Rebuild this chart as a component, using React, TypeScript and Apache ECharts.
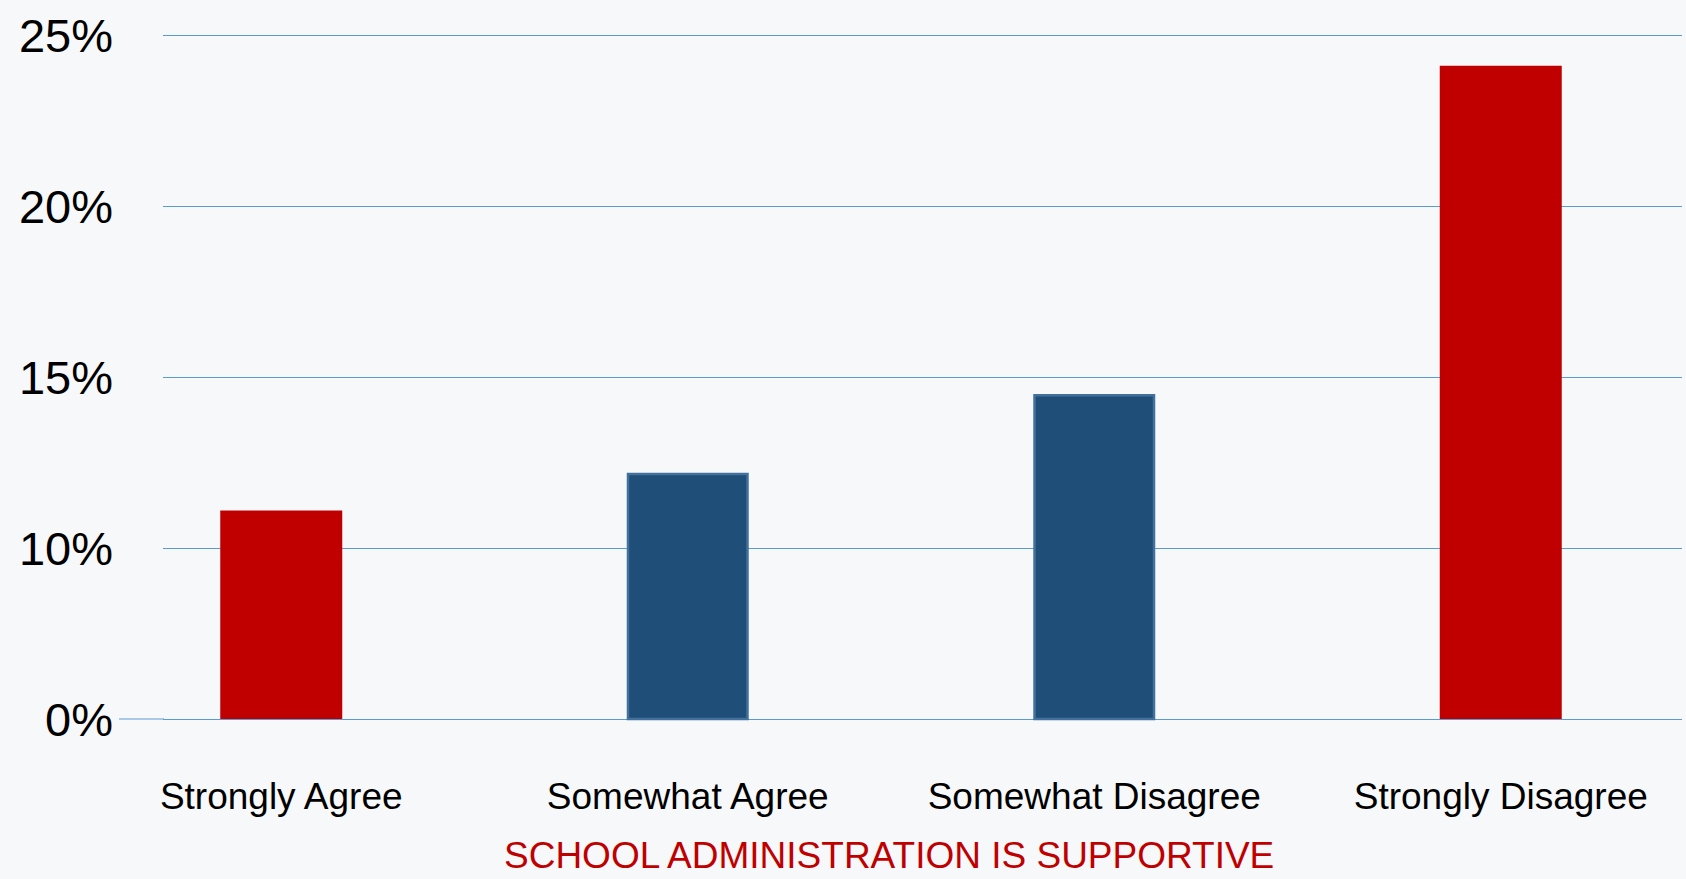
import React, { useEffect, useRef } from "react";
import * as echarts from "echarts";

// Survey responses: share of respondents per answer (percent)
const categories = ["Strongly Agree", "Somewhat Agree", "Somewhat Disagree", "Strongly Disagree"];
const values = [11.1, 12.2, 14.5, 24.1];
const barColors = ["#C00000", "#1F4E79", "#1F4E79", "#C00000"];
const barBorders = ["#C00000", "#41719C", "#41719C", "#C00000"];
// The lowest gridline is labelled as the baseline
const yTickLabels: Record<number, string> = { 5: "0%", 10: "10%", 15: "15%", 20: "20%", 25: "25%" };
const titleText = "SCHOOL ADMINISTRATION IS SUPPORTIVE";

const FONT = "'Liberation Sans', Arial, sans-serif";

export default function App() {
  const ref = useRef<HTMLDivElement>(null);

  useEffect(() => {
    document.body.style.margin = "0";
    if (!ref.current) return;
    const chart = echarts.init(ref.current, undefined, { renderer: "svg" });
    const top = 35;
    const bottom = 160;
    chart.setOption({
      animation: false,
      backgroundColor: "#F7F8FA",
      title: {
        text: titleText,
        left: 504,
        top: 838,
        padding: 0,
        textStyle: { color: "#C00000", fontFamily: FONT, fontSize: 37, lineHeight: 34, fontWeight: "normal" },
      },
      grid: [
        { left: 163, right: 4, top, bottom, outerBoundsMode: "none" },
        { left: 78, width: 1626, top, bottom, outerBoundsMode: "none" },
      ],
      xAxis: [
        { type: "category", gridIndex: 0, data: categories, show: false },
        {
          type: "category",
          gridIndex: 1,
          data: categories,
          axisLine: { show: false },
          axisTick: { show: false },
          axisLabel: { color: "#000", fontFamily: FONT, fontSize: 37, margin: 59, interval: 0 },
        },
      ],
      yAxis: [
        {
          type: "value",
          gridIndex: 0,
          min: 5,
          max: 25,
          interval: 5,
          axisLine: { show: false },
          axisTick: { show: false },
          splitLine: { lineStyle: { color: "#5B9BD5", width: 1.2 } },
          axisLabel: {
            color: "#000",
            fontFamily: FONT,
            fontSize: 47,
            margin: 50,
            formatter: (v: number) => yTickLabels[v] ?? "",
          },
        },
        { type: "value", gridIndex: 1, min: 5, max: 25, interval: 5, show: false },
      ],
      series: [
        {
          type: "bar",
          xAxisIndex: 1,
          yAxisIndex: 1,
          barWidth: 122,
          data: values.map((v, i) => ({
            value: v,
            itemStyle: {
              color: barColors[i],
              borderColor: barBorders[i],
              borderWidth: barColors[i] === barBorders[i] ? 0 : 2.5,
            },
          })),
        },
      ],
      graphic: [
        {
          type: "line",
          shape: { x1: 119, y1: 879 - bottom, x2: 164, y2: 879 - bottom },
          style: { stroke: "#5B9BD5", lineWidth: 1.2 },
        },
      ],
    });
    return () => chart.dispose();
  }, []);

  return <div ref={ref} style={{ width: 1686, height: 879 }} />;
}
